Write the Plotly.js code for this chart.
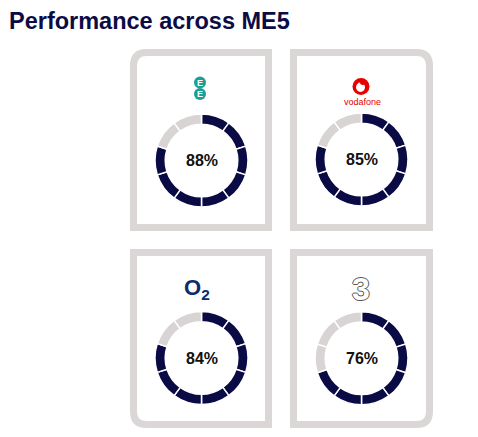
<!DOCTYPE html>
<html>
<head>
<meta charset="utf-8">
<script src="https://cdn.plot.ly/plotly-3.0.1.min.js"></script>
<style>html,body{margin:0;padding:0;background:#fff;}#chart{width:478px;height:437px;}</style>
</head>
<body>
<div id="chart"></div>
<script>
// ---- data ----
const chartTitle = 'Performance across ME5';
const operators = ['EE', 'Vodafone', 'O2', 'Three'];
const percentages = [88, 85, 84, 76];
const filledSegments = [8, 8, 8, 7];
const segmentValues = [1, 1, 1, 1, 1, 1, 1, 1, 1, 1];

// ---- styling / layout (pixel space) ----
const W = 478, H = 437;
const navy = '#0a0a45';
const grey = '#d8d4d4';
const cardBorder = '#dbd7d7';
const donutCenters = [[201.5, 160.5], [361.5, 159.5], [201.5, 358], [361.5, 358.3]];
const donutR = 46.5;
const cards = [
  {x0: 133.5, x1: 268.5, y0: 52.5, y1: 227.5, corner: 'tl'},
  {x0: 293.5, x1: 429.5, y0: 52.5, y1: 227.5, corner: 'tr'},
  {x0: 133.5, x1: 268.5, y0: 252.5, y1: 424.5, corner: 'bl'},
  {x0: 293.5, x1: 429.5, y0: 252.5, y1: 424.5, corner: 'br'}
];

function cardPath(c, r) {
  const {x0, x1, y0, y1} = c;
  if (c.corner === 'tl') return `M${x0},${y1} L${x0},${y0 + r} Q${x0},${y0} ${x0 + r},${y0} L${x1},${y0} L${x1},${y1} Z`;
  if (c.corner === 'tr') return `M${x0},${y0} L${x1 - r},${y0} Q${x1},${y0} ${x1},${y0 + r} L${x1},${y1} L${x0},${y1} Z`;
  if (c.corner === 'bl') return `M${x0},${y0} L${x1},${y0} L${x1},${y1} L${x0 + r},${y1} Q${x0},${y1} ${x0},${y1 - r} Z`;
  return `M${x0},${y0} L${x1},${y0} L${x1},${y1 - r} Q${x1},${y1} ${x1 - r},${y1} L${x0},${y1} Z`;
}

const traces = operators.map((op, i) => {
  const [cx, cy] = donutCenters[i];
  const colors = segmentValues.map((v, k) => k < filledSegments[i] ? navy : grey);
  return {
    type: 'pie',
    name: op,
    values: segmentValues,
    labels: segmentValues.map((v, k) => op + ' ' + (k + 1)),
    sort: false,
    direction: 'clockwise',
    rotation: 0,
    hole: 0.78,
    textinfo: 'none',
    hoverinfo: 'skip',
    showlegend: false,
    marker: {colors: colors, line: {color: '#ffffff', width: 1.5}},
    domain: {
      x: [(cx - donutR) / W, (cx + donutR) / W],
      y: [1 - (cy + donutR) / H, 1 - (cy - donutR) / H]
    }
  };
});

const shapes = cards.map(c => ({
  type: 'path', xref: 'x', yref: 'y', path: cardPath(c, 13),
  line: {color: cardBorder, width: 7}, fillcolor: 'rgba(0,0,0,0)'
}));
// EE logo circles
shapes.push({type: 'circle', xref: 'x', yref: 'y', x0: 194, x1: 206, y0: 76.5, y1: 88.5, fillcolor: '#1a9f96', line: {width: 0}});
shapes.push({type: 'circle', xref: 'x', yref: 'y', x0: 194, x1: 206, y0: 88, y1: 100, fillcolor: '#1a9f96', line: {width: 0}});
// Vodafone logo
shapes.push({type: 'circle', xref: 'x', yref: 'y', x0: 352.5, x1: 369.5, y0: 78, y1: 95, fillcolor: '#e60000', line: {width: 0}});
shapes.push({type: 'circle', xref: 'x', yref: 'y', x0: 356, x1: 365, y0: 82.5, y1: 92, fillcolor: '#ffffff', line: {width: 0}});
shapes.push({type: 'circle', xref: 'x', yref: 'y', x0: 360, x1: 365.5, y0: 79.5, y1: 85, fillcolor: '#e60000', line: {width: 0}});

const annotations = percentages.map((p, i) => ({
  xref: 'x', yref: 'y', x: donutCenters[i][0], y: donutCenters[i][1],
  text: '<b>' + p + '%</b>', showarrow: false,
  font: {family: 'Liberation Sans, Arial, sans-serif', size: 16, color: '#111111'},
  xanchor: 'center', yanchor: 'middle'
}));
annotations.push({xref: 'x', yref: 'y', x: 200, y: 82.5, text: '<b>E</b>', showarrow: false,
  font: {family: 'Liberation Sans, Arial', size: 9, color: '#ffffff'}, xanchor: 'center', yanchor: 'middle'});
annotations.push({xref: 'x', yref: 'y', x: 200, y: 94, text: '<b>E</b>', showarrow: false,
  font: {family: 'Liberation Sans, Arial', size: 9, color: '#ffffff'}, xanchor: 'center', yanchor: 'middle'});
annotations.push({xref: 'x', yref: 'y', x: 362, y: 102, text: 'vodafone', showarrow: false,
  font: {family: 'Liberation Sans, Arial', size: 9, color: '#e60000'}, xanchor: 'center', yanchor: 'middle'});
annotations.push({xref: 'x', yref: 'y', x: 197, y: 289, text: '<b>O<sub>2</sub></b>', showarrow: false,
  font: {family: 'Liberation Sans, Arial', size: 22, color: '#0e2a6e'}, xanchor: 'center', yanchor: 'middle'});
annotations.push({xref: 'x', yref: 'y', x: 361, y: 289, text: '<b>3</b>', showarrow: false,
  font: {family: 'Liberation Sans, Arial', size: 32, color: '#ffffff',
    shadow: '1px 0 0 #555, -1px 0 0 #555, 0 1px 0 #555, 0 -1px 0 #555'},
  xanchor: 'center', yanchor: 'middle'});

const layout = {
  width: W, height: H,
  margin: {l: 0, r: 0, t: 0, b: 0},
  paper_bgcolor: '#ffffff', plot_bgcolor: '#ffffff',
  title: {text: '<b>' + chartTitle + '</b>', x: 9 / W, xanchor: 'left', y: 1 - 21 / H, yanchor: 'middle',
    font: {family: 'Liberation Sans, Arial, sans-serif', size: 23.5, color: '#0b0b45'}},
  xaxis: {range: [0, W], visible: false, fixedrange: true},
  yaxis: {range: [H, 0], visible: false, fixedrange: true},
  shapes: shapes,
  annotations: annotations,
  showlegend: false
};

Plotly.newPlot('chart', traces, layout, {staticPlot: true, displayModeBar: false});
</script>
</body>
</html>
